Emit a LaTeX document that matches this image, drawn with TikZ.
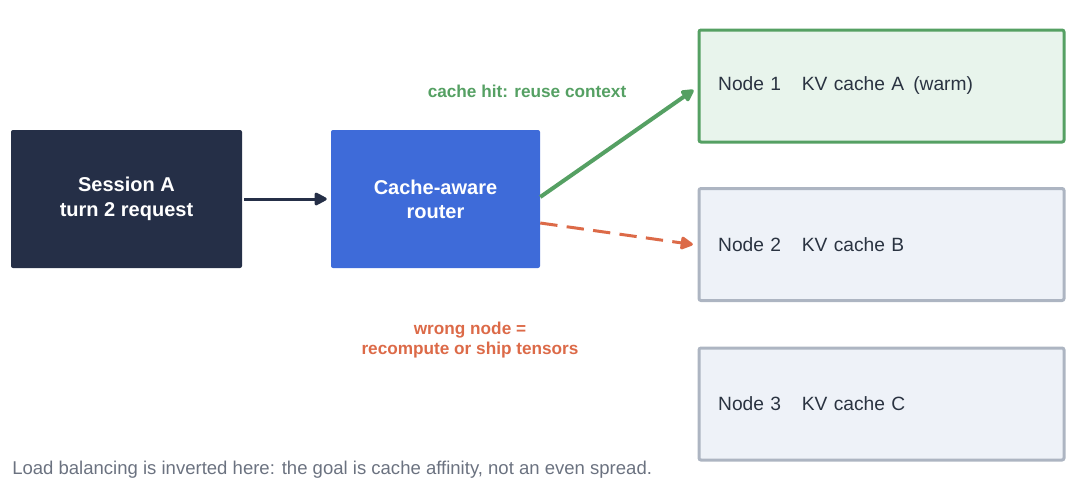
\documentclass[tikz,border=0pt]{standalone}
\usepackage{fontspec}
\setmainfont{Liberation Sans}
\usetikzlibrary{arrows.meta}

\definecolor{navy}{HTML}{252F47}
\definecolor{routerblue}{HTML}{3E6BD9}
\definecolor{hitgreen}{HTML}{55A063}
\definecolor{hitfill}{HTML}{E8F4EC}
\definecolor{missorange}{HTML}{DC6A48}
\definecolor{cachefill}{HTML}{EEF2F8}
\definecolor{cacheline}{HTML}{ADB5C2}
\definecolor{inktext}{HTML}{2A3341}
\definecolor{notegray}{HTML}{6B7280}

\begin{document}
\begin{tikzpicture}[
    x=0.75pt, y=-0.75pt,
    source/.style={
        rectangle, rounded corners=1.5pt, fill=navy, text=white,
        minimum width=173.25pt, minimum height=103.5pt,
        align=center, font=\fontsize{15}{18.5}\selectfont\bfseries
    },
    router/.style={
        rectangle, rounded corners=1.5pt, fill=routerblue, text=white,
        minimum width=156.75pt, minimum height=103.5pt,
        align=center, font=\fontsize{15}{18}\selectfont\bfseries
    },
    cache/.style={
        rectangle, rounded corners=1.5pt, draw=cacheline, line width=2.25pt,
        fill=cachefill, text=inktext,
        minimum width=273.75pt, minimum height=84pt,
        text width=245pt, inner xsep=13.5pt, align=left,
        font=\fontsize{14.4}{18}\selectfont
    },
    warm/.style={cache, draw=hitgreen, fill=hitfill},
    flow/.style={line width=2.25pt, draw=navy,
        -{Triangle[length=10.5pt, width=10.5pt, round]}},
    hit/.style={line width=3pt, draw=hitgreen,
        -{Triangle[length=10.5pt, width=10.5pt, round]}},
    miss/.style={line width=2.25pt, draw=missorange, dash pattern=on 13pt off 7pt,
        -{Triangle[length=10.5pt, width=10.5pt, round]}},
    lbl/.style={font=\fontsize{12.9}{14.5}\selectfont\bfseries, align=center, inner sep=0pt}
]

\useasboundingbox (0,0) rectangle (1071,486);

\node[source] (session) at (126.5, 199)   {Session A\\turn 2 request};
\node[router] (router)  at (435.5, 199)   {Cache-aware\\router};
\node[warm]   (node1)   at (881.5, 86)    {Node 1\hspace{15.5pt}KV cache A\ \hspace{2pt}(warm)};
\node[cache]  (node2)   at (881.5, 244.5) {Node 2\hspace{15.5pt}KV cache B};
\node[cache]  (node3)   at (881.5, 404)   {Node 3\hspace{15.5pt}KV cache C};

\draw[flow] ([xshift=1.5pt]session.east) -- ([xshift=-3pt]router.west);
\draw[hit]  ([yshift=1.5pt]router.east) -- ([xshift=-3pt, yshift=-3pt]node1.west);
\draw[miss] ([yshift=-18pt]router.east) -- ([xshift=-3.5pt]node2.west);

\node[lbl, text=hitgreen]   (hitnote)  at (527, 91)  {cache hit: reuse context};
\node[lbl, text=missorange] (missnote) at (470, 340) {wrong node =\\recompute or ship tensors};

\node[anchor=west, inner sep=0pt, text=notegray, font=\fontsize{13.9}{16}\selectfont]
    (footer) at (12, 470) {Load balancing is inverted here: the goal is cache affinity, not an even spread.};

\end{tikzpicture}
\end{document}
